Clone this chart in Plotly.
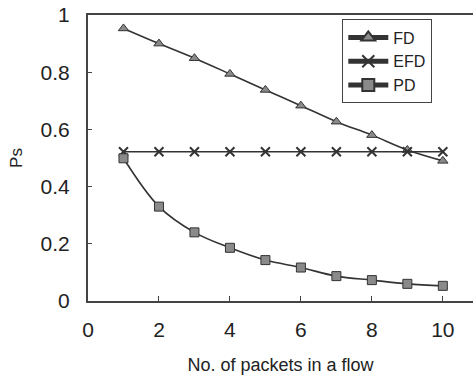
import plotly.graph_objects as go

packets = [1, 2, 3, 4, 5, 6, 7, 8, 9, 10]
fd = [0.953, 0.90, 0.849, 0.794, 0.738, 0.683, 0.627, 0.58, 0.528, 0.49]
efd = [0.522] * 10
pd_vals = [0.499, 0.33, 0.24, 0.186, 0.143, 0.117, 0.087, 0.073, 0.06, 0.053]

line_col = "#333333"
fill_col = "#8a8a8a"

fig = go.Figure()
fig.add_trace(go.Scatter(x=packets, y=fd, name="FD", mode="lines+markers",
                         line=dict(color=line_col, width=1.6, shape="spline"),
                         marker=dict(symbol="triangle-up", size=9, color=fill_col,
                                     line=dict(color=line_col, width=1))))
fig.add_trace(go.Scatter(x=packets, y=efd, name="EFD", mode="lines+markers",
                         line=dict(color=line_col, width=1.6),
                         marker=dict(symbol="x-thin", size=9, color=line_col,
                                     line=dict(color=line_col, width=2))))
fig.add_trace(go.Scatter(x=packets, y=pd_vals, name="PD", mode="lines+markers",
                         line=dict(color=line_col, width=1.6, shape="spline"),
                         marker=dict(symbol="square", size=9, color=fill_col,
                                     line=dict(color=line_col, width=1))))

font = "Liberation Sans, Arial, sans-serif"
fig.update_layout(
    width=473, height=379,
    margin=dict(l=88, r=0, t=15, b=78),
    paper_bgcolor="white", plot_bgcolor="white",
    font=dict(family=font, color="#222", size=17),
    showlegend=True,
    legend=dict(x=0.66, y=0.985, xanchor="left", yanchor="top",
                bordercolor="#444", borderwidth=1.2, bgcolor="white",
                font=dict(size=16), tracegroupgap=0, itemwidth=40,
                itemsizing="constant"),
    xaxis=dict(range=[0, 10.85], tickvals=[0, 2, 4, 6, 8, 10],
               showgrid=False, zeroline=False, showline=True, linecolor="#444",
               linewidth=2, mirror=True, ticks="inside", ticklen=5,
               tickcolor="#444", tickfont=dict(size=21), automargin=False,
               ticklabelstandoff=9,
               title=dict(text="No. of packets in a flow", font=dict(size=18), standoff=18)),
    yaxis=dict(range=[0, 1], tickvals=[0, 0.2, 0.4, 0.6, 0.8, 1],
               ticktext=["0", "0.2", "0.4", "0.6", "0.8", "1"],
               showgrid=False, zeroline=False, showline=True, linecolor="#444",
               linewidth=2, mirror=False, ticks="inside", ticklen=4,
               tickcolor="#444", tickfont=dict(size=21), automargin=False,
               ticklabelstandoff=12, ticklabeloverflow="allow",
               title=dict(text="Ps", font=dict(size=17), standoff=14)),
)

fig.write_html("out.html", config={"displayModeBar": False},
               post_script="document.body.style.margin='0';")
